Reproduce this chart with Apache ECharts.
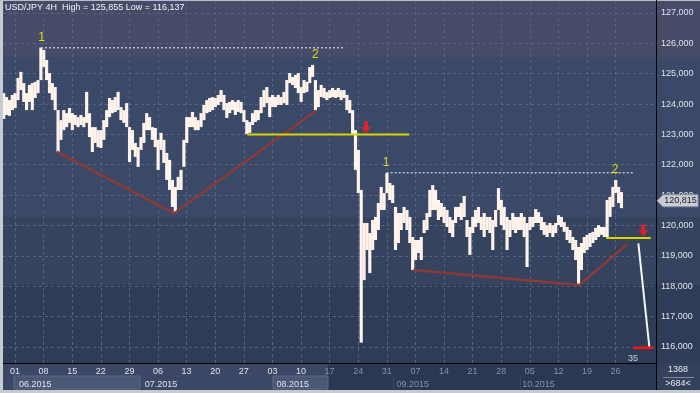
<!DOCTYPE html>
<html><head><meta charset="utf-8">
<script src="https://cdn.jsdelivr.net/npm/echarts@6/dist/echarts.min.js"></script>
<style>html,body{margin:0;padding:0;background:#3b4969;}#c{width:700px;height:393px;}</style>
</head><body><div id="c"></div>
<script>
// ---- data (x unit = 4H bar count from 01.06.2015 00:00) ----
const barStart = -12, barStep = 3;
const highs = [
124.36,124.23,124.13,124.30,124.36,124.86,125.06,124.69,124.36,124.63,
124.69,124.73,124.79,125.86,125.78,125.45,125.02,124.69,124.56,123.80,
123.47,123.80,123.70,123.87,123.70,123.64,123.57,123.64,123.57,124.40,
123.70,123.24,123.24,123.14,123.14,123.47,123.80,124.20,124.13,124.23,
124.40,123.90,123.80,124.03,123.24,123.14,122.72,122.58,122.91,123.38,
123.70,123.57,123.24,123.21,122.82,123.05,122.82,122.39,122.16,121.50,
121.27,121.60,121.83,122.82,123.57,123.57,123.74,123.57,123.47,123.70,
123.97,124.13,124.20,124.23,124.20,124.30,124.46,124.30,124.03,124.07,
124.13,124.07,124.13,124.07,123.80,123.47,123.41,123.70,123.80,123.80,
124.23,124.46,124.56,124.23,124.30,124.23,124.30,124.23,124.40,124.79,
125.02,124.89,124.96,125.02,124.56,124.79,124.73,125.22,125.29,124.79,
124.46,124.63,124.53,124.40,124.46,124.53,124.46,124.53,124.46,124.46,
124.30,124.13,123.80,123.14,122.49,121.17,120.08,120.08,119.75,120.18,
120.28,120.74,121.27,121.07,121.73,121.40,121.33,120.61,120.41,120.41,
120.61,120.51,120.28,119.62,119.52,119.52,119.62,120.18,120.41,121.17,
121.33,121.17,120.84,120.74,120.61,120.51,120.28,120.18,120.61,120.61,
120.74,120.97,120.18,119.95,120.28,120.51,120.61,120.28,120.41,120.28,
120.28,120.18,120.51,121.23,120.84,120.61,120.28,120.18,120.41,120.28,
120.28,120.41,120.28,120.08,120.28,120.28,120.54,120.44,120.28,120.11,
120.01,120.08,120.01,120.08,120.34,120.28,120.11,119.95,119.85,119.62,
119.52,119.29,119.42,119.62,119.69,119.75,119.79,119.92,120.01,119.95,
119.95,120.84,120.94,121.27,121.50,121.27,121.10];
const lows = [
123.51,123.64,123.61,123.80,123.87,124.13,124.46,124.07,123.80,124.07,
123.80,124.20,124.36,124.79,125.22,124.79,124.36,124.13,123.80,122.42,
122.82,123.14,123.24,123.38,123.14,123.31,123.24,123.31,123.24,123.38,
122.91,122.42,122.72,122.58,122.55,122.82,123.24,123.57,123.70,123.74,
123.80,123.47,123.38,123.24,122.09,122.49,122.26,121.93,122.49,122.72,
123.14,123.14,122.82,122.58,121.83,122.49,122.06,121.50,121.17,120.61,
120.41,121.17,121.17,121.93,122.72,123.24,123.24,123.14,123.14,123.24,
123.47,123.70,123.74,123.80,123.90,123.97,124.07,123.80,123.54,123.70,
123.80,123.64,123.74,123.70,123.41,123.01,123.05,123.31,123.41,123.47,
123.70,123.90,124.03,123.57,123.90,123.90,123.97,123.97,124.03,123.97,
124.69,124.63,124.53,124.36,124.07,124.36,124.40,124.69,124.89,123.80,
123.90,124.23,124.20,124.13,124.20,124.23,124.20,124.23,124.13,124.20,
123.80,123.70,122.98,121.83,121.07,116.14,118.20,119.19,118.43,119.19,
119.52,119.85,120.51,120.51,121.07,120.84,120.74,119.19,119.42,119.85,
120.08,119.85,119.42,118.53,118.86,119.09,118.86,119.75,119.85,120.28,
120.51,120.51,120.18,120.28,120.08,119.95,119.75,119.62,120.08,120.28,
120.18,120.28,119.62,119.03,119.75,119.95,120.08,119.85,119.62,119.85,
119.75,119.19,119.95,120.51,120.01,119.85,119.19,119.62,119.85,119.75,
119.85,119.85,119.62,118.63,119.85,119.95,120.08,120.08,119.85,119.69,
119.62,119.75,119.62,119.75,120.01,119.95,119.79,119.52,119.42,119.19,
118.86,118.04,118.53,119.09,119.19,119.29,119.42,119.52,119.62,119.69,
119.62,119.62,120.28,120.61,121.07,120.74,120.57];
const lastPrice = 120.815;
const priceTicks = [116,117,118,119,120,121,122,123,124,125,126,127];
const dayLabels = ['01','08','15','22','29','06','13','20','27','03','10','17','24','31','07','14','21','28','05','12','19','26'];
const dayTickBars = [0,30,60,90,120,150,180,210,240,270,300,330,360,390,420,450,480,510,540,570,600,630];
const monthLabels = ['06.2015','07.2015','08.2015','09.2015','10.2015'];
const monthStartBars = [0,132,270,396,528];
const titleText = 'USD/JPY 4H  High = 125,855 Low = 116,137';
const trendA = [[43.7,122.43],[166.8,120.40],[315.7,123.78]];
const trendB = [[417.8,118.53],[592,118.04],[642.3,119.38]];
const resistA = [[27.3,125.855],[344.4,125.855]];
const resistB = [[389.9,121.74],[648,121.74]];
const supportA = [[243.7,123.00],[413.6,123.00]];
const supportB = [[620,119.59],[666.8,119.59]];
const projection = [[653.9,119.41],[665.4,116.0]];
const target = [[648.6,115.97],[669.6,115.97]];
const waveLabels = [['1',28,126.20],['2',315,125.64],['1',389.2,122.07],['2',629.4,121.83]];
const arrowPoints = [[368.2,123.24],[659,119.83]];
const countLabel = ['35',648.4,115.63];
const barCountTop = '1368', barCountBottom = '>684<';

// ---- chart ----
const FONT = '"Liberation Sans", Arial, sans-serif';
const chart = echarts.init(document.getElementById('c'), null, {renderer:'canvas'});
const xMin = -12.59, xMax = 672.4;
const bars = highs.map((h,i)=>[barStart + i*barStep, h, lows[i]]);
function lineSeries(data, color, width, type, opacity){
  return {type:'line', data, symbol:'none', silent:true, animation:false, z:5,
    lineStyle:{color, width, type: type||'solid', opacity: opacity==null?1:opacity}};
}
const bg = [
  {type:'rect', z:-10, shape:{x:0,y:0,width:700,height:57}, style:{fill:'#464b67'}},
  {type:'rect', z:-10, shape:{x:0,y:57,width:700,height:160}, style:{fill:'#3b4969'}},
  {type:'rect', z:-10, shape:{x:0,y:217,width:700,height:68}, style:{fill:'#35435f'}},
  {type:'rect', z:-10, shape:{x:0,y:285,width:700,height:78}, style:{fill:'#2f3c58'}},
  {type:'rect', z:-10, shape:{x:3,y:363,width:325,height:27}, style:{fill:'#3b4764'}},
  {type:'rect', z:-10, shape:{x:328,y:363,width:328,height:27}, style:{fill:'#2c3752'}},
  {type:'rect', z:-9, shape:{x:14,y:376,width:126,height:13}, style:{fill:'#4b5775', stroke:'#5b6886', lineWidth:1}},
  {type:'rect', z:-9, shape:{x:273,y:376,width:55,height:13}, style:{fill:'#4b5775', stroke:'#5b6886', lineWidth:1}},
  {type:'line', z:-9, shape:{x1:393.5,y1:376,x2:393.5,y2:389}, style:{stroke:'#3a4662', lineWidth:1}},
  {type:'line', z:-9, shape:{x1:520.5,y1:376,x2:520.5,y2:389}, style:{stroke:'#3a4662', lineWidth:1}},
  {type:'rect', z:-10, shape:{x:656,y:363,width:44,height:27}, style:{fill:'#34405c'}},
  {type:'rect', z:20, shape:{x:0,y:0,width:3,height:393}, style:{fill:'#c6cad2'}},
  {type:'rect', z:20, shape:{x:0,y:390,width:700,height:3}, style:{fill:'#c6cad2'}},
  {type:'rect', z:20, shape:{x:0,y:0,width:700,height:1}, style:{fill:'#b8bcc6'}},
  {type:'line', z:20, shape:{x1:656.5,y1:0,x2:656.5,y2:390}, style:{stroke:'#000', lineWidth:1}},
  {type:'line', z:20, shape:{x1:3,y1:363.5,x2:656,y2:363.5}, style:{stroke:'#000', lineWidth:1}},
  {type:'line', z:20, shape:{x1:663,y1:377.5,x2:694,y2:377.5}, style:{stroke:'#7f8ba3', lineWidth:1}},
  {type:'text', z:20, x:678, y:370, style:{text:barCountTop, fill:'#e4e8f0', font:'9px '+FONT, align:'center', verticalAlign:'middle'}},
  {type:'text', z:20, x:678, y:383.5, style:{text:barCountBottom, fill:'#e4e8f0', font:'9px '+FONT, align:'center', verticalAlign:'middle'}},
  {type:'text', z:20, x:5, y:8, style:{text:titleText, fill:'#f2f4f8', font:'9px '+FONT, align:'left', verticalAlign:'middle'}}
];
const option = {
  animation:false,
  backgroundColor:'transparent',
  grid:{left:3, right:44, top:0, bottom:30},
  xAxis:[{
    type:'value', min:xMin, max:xMax, position:'bottom',
    axisLine:{show:false}, axisTick:{show:false, customValues:dayTickBars},
    splitLine:{show:true, lineStyle:{color:'#56637f', type:[3,3], width:1}},
    axisLabel:{customValues:dayTickBars, margin:4, fontSize:9, fontFamily:FONT,
      formatter:(v)=>{const i=Math.round(v/30); return (v>=330?'{b|':'{a|')+dayLabels[i]+'}';},
      rich:{a:{color:'#dfe4ec', fontSize:9, fontFamily:FONT}, b:{color:'#8591a8', fontSize:9, fontFamily:FONT}}}
  },{
    type:'value', min:xMin, max:xMax, position:'bottom', offset:12,
    axisLine:{show:false}, axisTick:{show:false, customValues:monthStartBars}, splitLine:{show:false},
    axisLabel:{customValues:monthStartBars, margin:5, align:'left', padding:[0,0,0,4], fontSize:9, fontFamily:FONT,
      formatter:(v)=>{const i=monthStartBars.indexOf(Math.round(v)); return (i>=3?'{b|':'{a|')+monthLabels[i]+'}';},
      rich:{a:{color:'#dfe4ec', fontSize:9, fontFamily:FONT}, b:{color:'#8591a8', fontSize:9, fontFamily:FONT}}}
  }],
  yAxis:{
    type:'value', position:'right', min:115.468, max:127.428,
    axisLine:{show:false}, axisTick:{show:false, customValues:priceTicks},
    splitLine:{show:true, lineStyle:{color:'#56637f', type:[3,3], width:1}},
    axisLabel:{customValues:priceTicks, margin:5, color:'#dde2ea', fontSize:9, fontFamily:FONT,
      formatter:(v)=>Math.round(v)+',000'}
  },
  graphic:bg,
  series:[
    {type:'custom', data:bars, clip:true, z:3, silent:true,
      renderItem:(params, api)=>{
        const x=api.value(0), hi=api.value(1), lo=api.value(2);
        const pH=api.coord([x,hi]), pL=api.coord([x,lo]);
        const w=api.size([barStep,0])[0];
        return {type:'rect', shape:{x:pH[0]-w/2, y:pH[1], width:w+0.3, height:Math.max(1,pL[1]-pH[1])},
          style:{fill:'#fff3ec'}};
      }},
    lineSeries(trendA, '#8e3a36', 2.5, 'solid', 0.95),
    lineSeries(trendB, '#8e3a36', 2.5, 'solid', 0.95),
    lineSeries(resistA, '#b9c1d2', 1.5, [2,2]),
    lineSeries(resistB, '#b9c1d2', 1.5, [2,2]),
    lineSeries(supportA, '#d6d600', 2),
    lineSeries(supportB, '#d6d600', 2),
    lineSeries(projection, '#f4f4f4', 2),
    lineSeries(target, '#ff1010', 2.5),
    {type:'scatter', symbolSize:0, silent:true, z:6,
      data:waveLabels.map(w=>({name:w[0], value:[w[1],w[2]]})),
      label:{show:true, position:'inside', formatter:'{b}', color:'#ffff00', fontSize:12, fontFamily:FONT}},
    {type:'scatter', symbolSize:0, silent:true, z:6,
      data:[{name:countLabel[0], value:[countLabel[1],countLabel[2]]}],
      label:{show:true, position:'inside', formatter:'{b}', color:'#eef0f4', fontSize:9, fontFamily:FONT}},
    {type:'scatter', silent:true, z:6, data:arrowPoints,
      symbol:'path://M3,0 L7,0 L7,6 L10,6 L5,12 L0,6 L3,6 Z', symbolSize:[10,12],
      itemStyle:{color:'#ff1a1a'}}
  ]
};
chart.setOption(option);
const py = chart.convertToPixel({yAxisIndex:0}, lastPrice);
chart.setOption({graphic: bg.concat([
  {type:'polygon', z:21, shape:{points:[[657,py],[663,py-6],[698,py-6],[698,py+6],[663,py+6]]},
    style:{fill:'#c9ccd4', stroke:'#8d93a0', lineWidth:1}},
  {type:'text', z:22, x:680.5, y:py, style:{text:lastPrice.toFixed(3).replace('.',','), fill:'#1a1d24',
    font:'9px '+FONT, align:'center', verticalAlign:'middle'}}
])});
</script></body></html>
